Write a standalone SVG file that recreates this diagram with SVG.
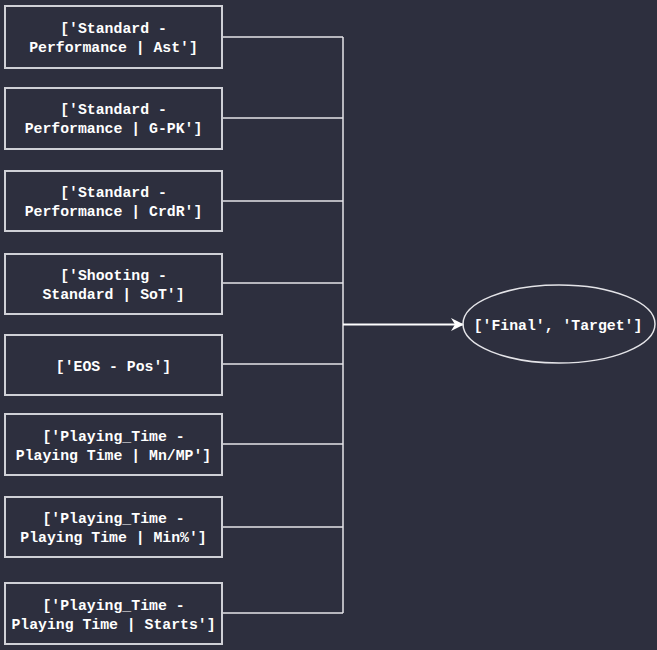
<svg xmlns="http://www.w3.org/2000/svg" width="657" height="650" viewBox="0 0 657 650">
<style>
.bg{fill:#2d2f3e}
.box{fill:none;stroke:#cfd0d6;stroke-width:2}
.t{font-family:"Liberation Mono","DejaVu Sans Mono",monospace;font-weight:bold;font-size:14.8px;fill:#ffffff;text-anchor:middle}
.c{fill:none;stroke:#e4e4e8;stroke-width:1.5}
.a{fill:none;stroke:#ffffff;stroke-width:2}
</style>
<defs>
<marker id="ah" markerWidth="13" markerHeight="13" refX="12" refY="6.5" orient="auto" markerUnits="userSpaceOnUse">
<path d="M0,0 L13,6.5 L0,13 L4,6.5 Z" fill="#ffffff"/>
</marker>
</defs>
<rect class="bg" x="0" y="0" width="657" height="650"/>
<g id="connectors">
<path class="c" d="M222,37 H343 M222,118 H343 M222,201 H343 M222,283 H343 M222,364 H343 M222,444 H343 M222,527 H343 M222,613 H343 M343,37 V613"/>
<path class="a" d="M343,324.5 H463" marker-end="url(#ah)"/>
</g>
<g id="n1"><rect class="box" x="5" y="6" width="217" height="62"/><text class="t" x="113.5" y="33">['Standard -</text><text class="t" x="113.5" y="52">Performance | Ast']</text></g>
<g id="n2"><rect class="box" x="5" y="88" width="217" height="61"/><text class="t" x="113.5" y="114">['Standard -</text><text class="t" x="113.5" y="133">Performance | G-PK']</text></g>
<g id="n3"><rect class="box" x="5" y="171" width="217" height="60"/><text class="t" x="113.5" y="197">['Standard -</text><text class="t" x="113.5" y="216">Performance | CrdR']</text></g>
<g id="n4"><rect class="box" x="5" y="254" width="217" height="60"/><text class="t" x="113.5" y="280">['Shooting -</text><text class="t" x="113.5" y="299">Standard | SoT']</text></g>
<g id="n5"><rect class="box" x="5" y="335" width="217" height="60"/><text class="t" x="113.5" y="371">['EOS - Pos']</text></g>
<g id="n6"><rect class="box" x="5" y="414" width="217" height="61"/><text class="t" x="113.5" y="441">['Playing_Time -</text><text class="t" x="113.5" y="460">Playing Time | Mn/MP']</text></g>
<g id="n7"><rect class="box" x="5" y="497" width="217" height="60"/><text class="t" x="113.5" y="523">['Playing_Time -</text><text class="t" x="113.5" y="542">Playing Time | Min%']</text></g>
<g id="n8"><rect class="box" x="5" y="583" width="217" height="61"/><text class="t" x="113.5" y="610">['Playing_Time -</text><text class="t" x="113.5" y="629">Playing Time | Starts']</text></g>
<g id="target"><ellipse cx="559" cy="324" rx="96" ry="39" fill="none" stroke="#e4e4e8" stroke-width="1.5"/><text class="t" x="558" y="330">['Final', 'Target']</text></g>
</svg>
